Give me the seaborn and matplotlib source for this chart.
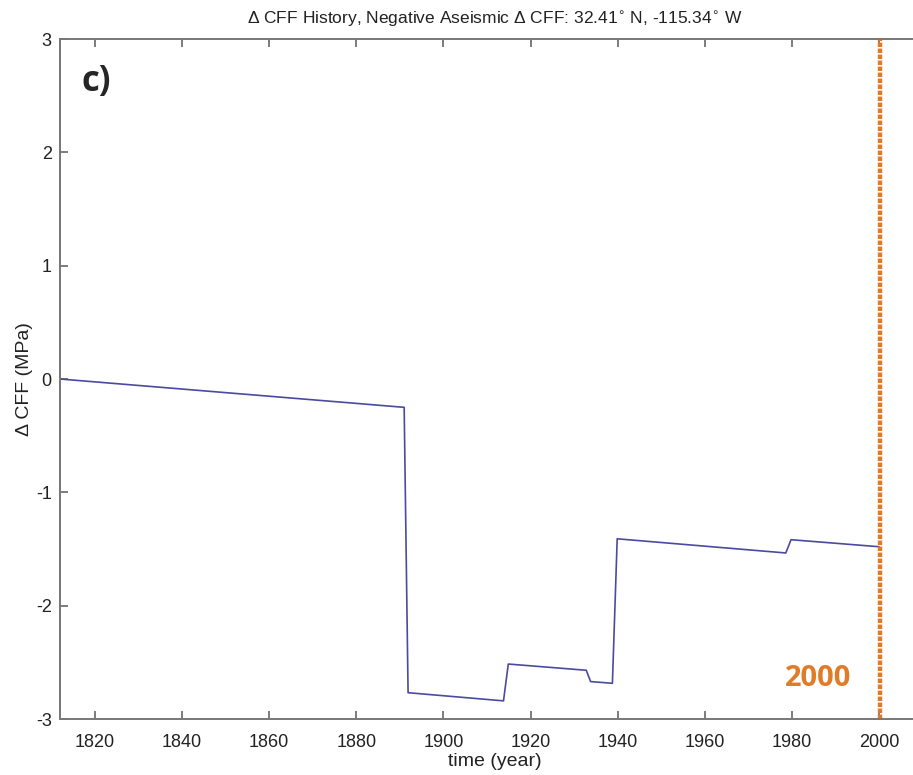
import matplotlib
matplotlib.use("Agg")
import matplotlib.pyplot as plt
import seaborn as sns
import pandas as pd

# Coulomb failure stress change history at the site
years = [1812.0, 1891.0, 1891.9, 1913.8, 1914.9, 1932.8, 1933.8, 1938.8,
         1939.9, 1978.6, 1979.8, 2000.0]
dcff = [0.0, -0.25, -2.768, -2.84, -2.515, -2.57, -2.67, -2.685,
        -1.41, -1.535, -1.418, -1.48]
xticks = [1820, 1840, 1860, 1880, 1900, 1920, 1940, 1960, 1980, 2000]
yticks = [-3, -2, -1, 0, 1, 2, 3]
marker_year = 2000.2
marker_label = "2000"
panel_label = "c)"

sns.set_style("ticks")
plt.rcParams["font.family"] = ["Liberation Sans", "DejaVu Sans"]
plt.rcParams["axes.unicode_minus"] = False

df = pd.DataFrame({"year": years, "dcff": dcff})

fig = plt.figure(figsize=(9.13, 7.75), dpi=100)
ax = fig.add_axes([60 / 913, 1 - 719 / 775, 870 / 913, 680 / 775])

sns.lineplot(data=df, x="year", y="dcff", ax=ax, color="#4a4aa0",
             linewidth=1.2, sort=False)

ax.axvline(marker_year, color="#e07b28", linewidth=3.2, linestyle=(0, (1.0, 0.35)))
ax.text(1986, -2.64, marker_label, color="#e07b28", fontsize=21,
        fontweight="bold", ha="center", va="center", family=["Open Sans", "DejaVu Sans"])
ax.text(0.025, 0.963, panel_label, transform=ax.transAxes, fontsize=25,
        fontweight="bold", ha="left", va="top", family=["Open Sans", "DejaVu Sans"])

ax.set_xlim(1812, 2011.7)
ax.set_ylim(-3, 3)
ax.set_xticks(xticks)
ax.set_yticks(yticks)
ax.tick_params(direction="in", length=6, width=1.2, color="#666666",
               labelsize=13, top=True, right=True, labelcolor="#222222", pad=11)
ax.tick_params(axis="y", pad=6)
for s in ax.spines.values():
    s.set_color("#777777")
    s.set_linewidth(1.4)

ax.set_xlabel("time (year)", fontsize=14, color="#222222", labelpad=1)
ax.set_ylabel("Δ CFF (MPa)", fontsize=14, color="#222222", labelpad=2)
ax.set_title("Δ CFF History, Negative Aseismic Δ CFF: 32.41$^{\\circ}$ N, -115.34$^{\\circ}$ W",
             fontsize=12.5, color="#222222", pad=11)

fig.savefig("out.png", dpi=100)
